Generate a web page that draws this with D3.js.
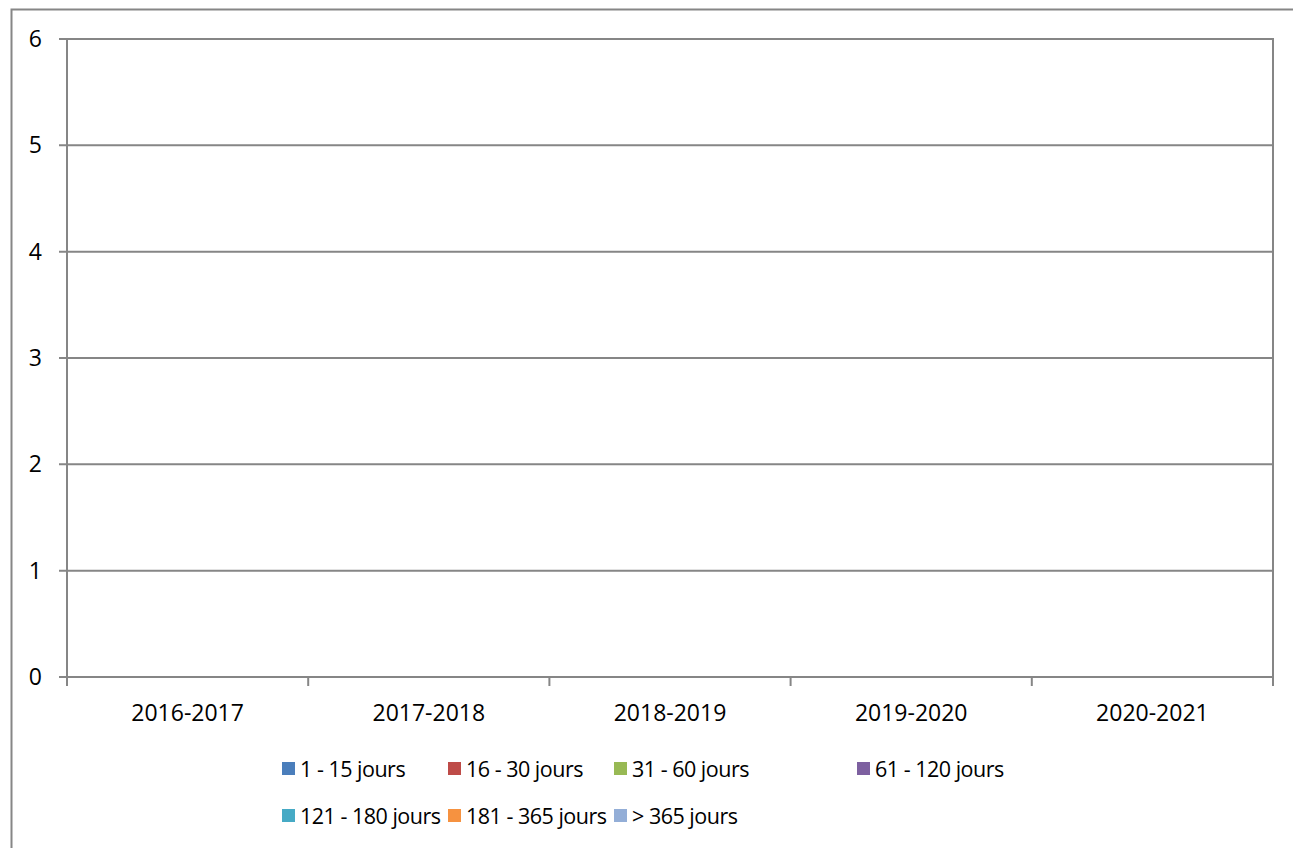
<!DOCTYPE html>
<meta charset="utf-8">
<style>
    body { margin: 0; background: #fff; }
    text { font-family: "Open Sans", sans-serif; font-size: 23px; fill: #000; }
    .legend text { font-size: 21.5px; letter-spacing: -0.5px; }
    .grid line, .frame { stroke: #868686; stroke-width: 2px; fill: none; }
    .axis path { display: none; }
    .axis line { stroke: #868686; stroke-width: 2px; }
</style>
<svg width="1293" height="848"></svg>
<script src="https://cdn.jsdelivr.net/npm/d3@7"></script>
<script>

    var categories = ["2016-2017", "2017-2018", "2018-2019", "2019-2020", "2020-2021"];
    var seriesNames = ["1 - 15 jours", "16 - 30 jours", "31 - 60 jours", "61 - 120 jours",
                       "121 - 180 jours", "181 - 365 jours", "> 365 jours"];
    var seriesColors = ["#4A7EBB", "#BE4B48", "#98B954", "#7D60A0", "#46AAC5", "#F69240", "#93AED7"];
    // every period is empty in the source chart
    var values = [
        [0, 0, 0, 0, 0],
        [0, 0, 0, 0, 0],
        [0, 0, 0, 0, 0],
        [0, 0, 0, 0, 0],
        [0, 0, 0, 0, 0],
        [0, 0, 0, 0, 0],
        [0, 0, 0, 0, 0]
    ];
    var yTicks = [0, 1, 2, 3, 4, 5, 6];

    var svg = d3.select("svg"),
        margin = {top: 39, right: 20, bottom: 171, left: 67},
        width = 1273 - margin.left,
        height = 677 - margin.top;

    // outer chart border (runs past right/bottom edge)
    svg.append("rect")
        .attr("class", "frame")
        .attr("x", 11.5).attr("y", 9.5)
        .attr("width", 1300).attr("height", 860)
        .attr("stroke-width", 1.5);

    var g = svg.append("g").attr("transform", "translate(" + margin.left + "," + margin.top + ")");

    var x0 = d3.scaleBand().domain(categories).range([0, width]);
    var x1 = d3.scaleBand().domain(d3.range(seriesNames.length)).range([0, x0.bandwidth()]).paddingOuter(1.1);
    var y = d3.scaleLinear().domain([0, 6]).range([height, 0]);

    // gridlines
    g.append("g")
        .attr("class", "grid")
        .selectAll("line")
        .data(yTicks)
        .enter().append("line")
        .attr("x1", -8).attr("x2", width)
        .attr("y1", function(d) { return y(d); })
        .attr("y2", function(d) { return y(d); });

    // plot box: left, right, top
    g.append("rect")
        .attr("class", "frame")
        .attr("width", width).attr("height", height);

    g.append("g")
        .selectAll("text")
        .data(yTicks)
        .enter().append("text")
        .attr("x", -25)
        .attr("y", function(d) { return y(d); })
        .attr("dy", "0.35em")
        .attr("text-anchor", "end")
        .text(function(d) { return d; });

    // x axis ticks at category boundaries
    var bounds = categories.map(function(c) { return x0(c); }).concat([width]);
    g.append("g")
        .attr("class", "axis")
        .selectAll("line")
        .data(bounds)
        .enter().append("line")
        .attr("x1", function(d) { return d; }).attr("x2", function(d) { return d; })
        .attr("y1", height).attr("y2", height + 9);

    g.append("g")
        .selectAll("text")
        .data(categories)
        .enter().append("text")
        .attr("x", function(d) { return x0(d) + x0.bandwidth() / 2; })
        .attr("y", height + 36)
        .attr("dy", "0.35em")
        .attr("text-anchor", "middle")
        .text(function(d) { return d; });

    // bars (all zero height)
    var series = g.selectAll(".series")
        .data(values)
        .enter().append("g")
        .attr("class", "series")
        .attr("fill", function(d, i) { return seriesColors[i]; });

    series.selectAll("rect")
        .data(function(d, i) { return d.map(function(v, j) { return {s: i, c: categories[j], v: v}; }); })
        .enter().append("rect")
        .attr("x", function(d) { return x0(d.c) + x1(d.s); })
        .attr("width", x1.bandwidth())
        .attr("y", function(d) { return y(d.v); })
        .attr("height", function(d) { return y(0) - y(d.v); });

    // legend
    var legendCols = [282, 448, 614, 857],
        legendRows = [769, 816];
    var legend = svg.append("g").attr("class", "legend");
    var item = legend.selectAll("g")
        .data(seriesNames)
        .enter().append("g")
        .attr("transform", function(d, i) {
            var r = i < 4 ? 0 : 1, c = i < 4 ? i : i - 4;
            return "translate(" + legendCols[c] + "," + legendRows[r] + ")";
        });

    item.append("rect")
        .attr("y", -7)
        .attr("width", 13).attr("height", 13)
        .attr("fill", function(d, i) { return seriesColors[i]; });

    item.append("text")
        .attr("x", 18)
        .attr("dy", "0.35em")
        .text(function(d) { return d; });

</script>
